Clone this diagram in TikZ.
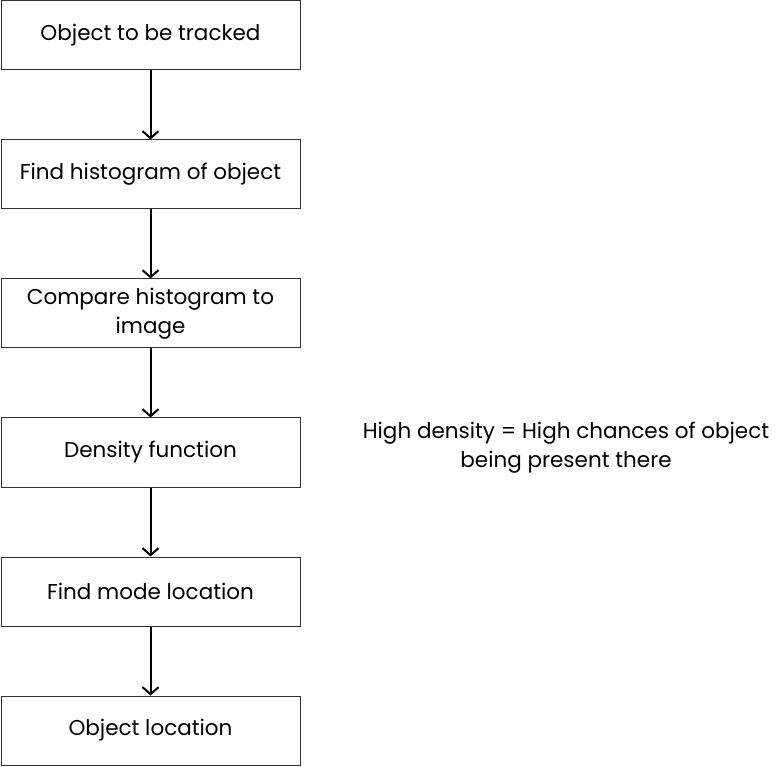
\documentclass[tikz,border=0pt]{standalone}
\usepackage{fontspec}
\setmainfont{Poppins}
\usetikzlibrary{arrows.meta}

\tikzset{
	stepbox/.style={draw=black!80, line width=1pt, minimum width=299pt, minimum height=69pt, align=center, inner sep=0pt, font=\fontsize{21.5}{29}\selectfont},
	flow/.style={line width=2pt, -{Straight Barb[length=7pt, width=16pt, line width=2pt]}}
}

\begin{document}
\begin{tikzpicture}[x=1pt, y=-1pt]
		\useasboundingbox (0,0) rectangle (777,767);

		\foreach \i/\t in {1/{Object to be tracked}, 2/{Find histogram of object}, 3/{Compare histogram to\\image}, 4/{Density function}, 5/{Find mode location}, 6/{Object location}} {
				\node[stepbox] (b-\i) at (150.5, {35.5+139*(\i-1)}) {\t};
			}

		\foreach \i [evaluate=\i as \j using int(\i+1)] in {1, ..., 5} {
				\draw[flow] (b-\i.south) -- (b-\j.north);
			}

		\node[align=center, font=\fontsize{21.5}{29}\selectfont] (note) at (566, 448) {High density = High chances of object\\being present there};
	\end{tikzpicture}
\end{document}
